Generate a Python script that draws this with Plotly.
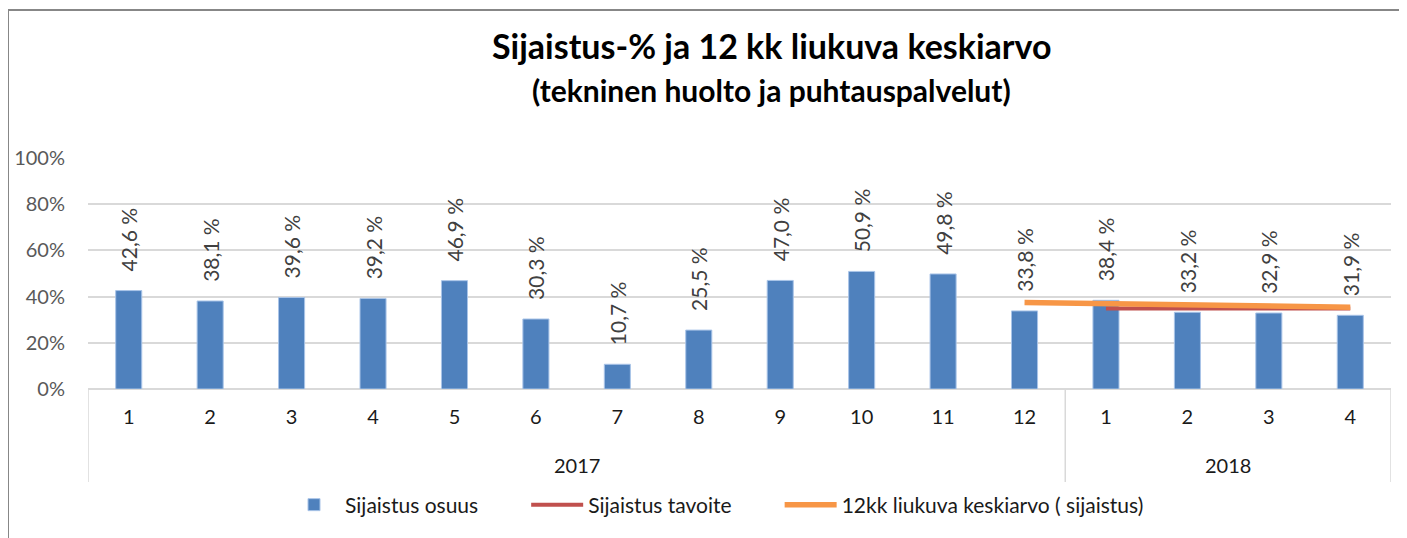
import plotly.graph_objects as go

years = ["2017"] * 12 + ["2018"] * 4
months = ["1", "2", "3", "4", "5", "6", "7", "8", "9", "10", "11", "12", "1", "2", "3", "4"]
osuus = [42.6, 38.1, 39.6, 39.2, 46.9, 30.3, 10.7, 25.5, 47.0, 50.9, 49.8, 33.8, 38.4, 33.2, 32.9, 31.9]

tavoite_years = ["2018"] * 4
tavoite_months = ["1", "2", "3", "4"]
tavoite = [34.8, 34.8, 34.8, 34.8]

ka_years = ["2017", "2018", "2018", "2018", "2018"]
ka_months = ["12", "1", "2", "3", "4"]
keskiarvo = [37.5, 37.0, 36.5, 36.0, 35.4]

FONT = "Lato, 'Open Sans', sans-serif"
PAD = "\u00a0" * 8

cats = [f"{y}-{m}" for y, m in zip(years, months)]

fig = go.Figure()
fig.add_trace(go.Bar(
    x=cats, y=[v / 100 for v in osuus],
    name="Sijaistus osuus" + PAD,
    marker=dict(color="#4F81BD", line=dict(color="#A9C4E8", width=1)),
    width=0.32,
    text=["   " + f"{v:.1f}".replace(".", ",") + " %" for v in osuus],
    textposition="outside", textangle=-90, cliponaxis=False, constraintext="none",
    textfont=dict(family=FONT, size=21, color="#404040"),
    hoverinfo="skip",
))
fig.add_trace(go.Scatter(
    x=[f"{y}-{m}" for y, m in zip(tavoite_years, tavoite_months)],
    y=[v / 100 for v in tavoite],
    name="Sijaistus tavoite" + PAD, mode="lines",
    line=dict(color="#C0504D", width=4),
))
fig.add_trace(go.Scatter(
    x=[f"{y}-{m}" for y, m in zip(ka_years, ka_months)],
    y=[v / 100 for v in keskiarvo],
    name="12kk liukuva keskiarvo ( sijaistus)", mode="lines",
    line=dict(color="#F79646", width=5.5),
))

# page body has an 8px margin: figure origin sits at (8, 8) of the screenshot
OFF = 8
FW, FH = 1407 - OFF, 538 - OFF
TOP, BOT, LEFT, RIGHT = 158 - OFF, 389 - OFF, 88 - OFF, 1391 - OFF
H = float(BOT - TOP)
W = float(RIGHT - LEFT)
def px(x):
    return (x - OFF - LEFT) / W
def py(y):
    return (BOT - (y - OFF)) / H

groups = []
for i, y in enumerate(years):
    if not groups or groups[-1][0] != y:
        groups.append([y, i, i])
    else:
        groups[-1][2] = i

annotations = [
    dict(text="<b>Sijaistus-% ja 12 kk liukuva keskiarvo</b>", xref="paper", yref="paper",
         x=px(772), y=py(45), xanchor="center", yanchor="middle", showarrow=False,
         font=dict(family=FONT, size=34, color="#000000")),
    dict(text="<b>(tekninen huolto ja puhtauspalvelut)</b>", xref="paper", yref="paper",
         x=px(771), y=py(90), xanchor="center", yanchor="middle", showarrow=False,
         font=dict(family=FONT, size=30, color="#000000")),
]
shapes = [
    dict(type="line", xref="paper", yref="paper", x0=px(8), x1=px(8), y0=py(9), y1=py(545),
         line=dict(color="#878787", width=2)),
    dict(type="line", xref="paper", yref="paper", x0=px(7), x1=px(1415), y0=py(10), y1=py(10),
         line=dict(color="#878787", width=2)),
]
for g, i0, i1 in groups:
    annotations.append(dict(text=g, xref="x", yref="paper", x=(i0 + i1) / 2, y=py(465),
                            xanchor="center", yanchor="middle", showarrow=False,
                            font=dict(family=FONT, size=20, color="#1a1a1a")))
    shapes.append(dict(type="line", xref="x", yref="paper", x0=i0 - 0.5, x1=i0 - 0.5,
                       y0=0, y1=py(482), line=dict(color="#D9D9D9", width=1.5)))
shapes.append(dict(type="line", xref="x", yref="paper", x0=len(years) - 0.5, x1=len(years) - 0.5,
                   y0=0, y1=py(482), line=dict(color="#D9D9D9", width=1.5)))

fig.update_layout(
    width=FW, height=FH,
    margin=dict(l=LEFT, r=FW - RIGHT, t=TOP, b=FH - BOT),
    paper_bgcolor="white", plot_bgcolor="white",
    font=dict(family=FONT, size=20, color="#404040"),
    showlegend=True,
    legend=dict(orientation="h", x=px(716), xanchor="center", y=py(505), yanchor="middle",
                font=dict(family=FONT, size=21, color="#1a1a1a"),
                itemwidth=52, traceorder="normal"),
    xaxis=dict(type="category", showgrid=False, showline=False, automargin=False,
               range=[-0.5, len(years) - 0.5],
               tickmode="array", tickvals=cats, ticktext=months,
               tickfont=dict(family=FONT, size=20, color="#1a1a1a"),
               ticks="", ticklabelstandoff=14),
    yaxis=dict(range=[0, 1.0], tickvals=[0, 0.2, 0.4, 0.6, 0.8, 1.0],
               ticktext=["0%", "20%", "40%", "60%", "80%", "100%"], automargin=False,
               showgrid=True, gridcolor="#D9D9D9", gridwidth=1.5,
               zeroline=True, zerolinecolor="#D9D9D9", zerolinewidth=1.5,
               tickfont=dict(family=FONT, size=20, color="#595959"),
               ticks="", ticklabelstandoff=22),
    annotations=annotations,
    shapes=shapes,
)

fig.write_html("out.html")
